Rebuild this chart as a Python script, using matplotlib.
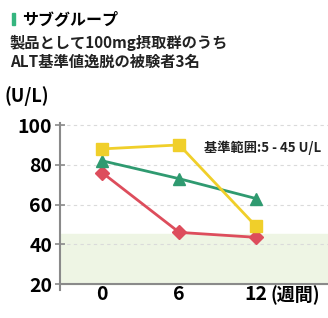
import matplotlib

matplotlib.use("Agg")
import matplotlib.pyplot as plt
from matplotlib.patches import Rectangle

plt.rcParams["font.family"] = ["Noto Sans CJK JP", "DejaVu Sans"]

weeks = [0, 6, 12]
week_labels = ["0", "6", "12"]
yellow_values = [88, 90, 49]
green_values = [82, 73, 63]
red_values = [76, 46, 43.5]
y_ticks = [20, 40, 60, 80, 100]
ref_low, ref_high = 5, 45

GRAY = "#8a8a8a"

fig = plt.figure(figsize=(3.28, 3.18), dpi=100)
ax = fig.add_axes([60 / 328, 0.088, 1 - 60 / 328, 0.525])

ax.set_xlim(-3.3, 17.6)
ax.set_ylim(17, 101)

# reference band (only the part above the axis floor is visible)
ax.axhspan(max(ref_low, 20), ref_high, color="#eef5e4", zorder=0)

for y in y_ticks[1:]:
    ax.axhline(y, color="#dadada", linestyle=(0, (3, 3)), linewidth=0.8, zorder=1)

ax.plot(weeks, red_values, color="#dd4d5c", linewidth=2, marker="D", markersize=7, zorder=3)
ax.plot(weeks, green_values, color="#2f9a70", linewidth=2, marker="^", markersize=8, zorder=3)
ax.plot(weeks, yellow_values, color="#f0cf2a", linewidth=2, marker="s", markersize=8, zorder=3)

for side in ["top", "right"]:
    ax.spines[side].set_visible(False)
ax.spines["bottom"].set_position(("data", 20))
for side in ["left", "bottom"]:
    ax.spines[side].set_color(GRAY)
    ax.spines[side].set_linewidth(1.5)

ax.set_yticks(y_ticks)
ax.set_yticklabels([str(v) for v in y_ticks], fontsize=14, fontweight="bold")
ax.tick_params(axis="y", direction="inout", length=7, width=1.2, color=GRAY, pad=2)
ax.set_xticks(weeks)
ax.set_xticklabels(week_labels, fontsize=14, fontweight="bold")
ax.tick_params(axis="x", length=0, pad=1)

ax.annotate("(週間)", xy=(weeks[-1], 20), xytext=(10, -1), textcoords="offset points",
            fontsize=13, fontweight="bold", ha="left", va="top")

ax.text(7.9, 88.5, "基準範囲:5 - 45 U/L", fontsize=9.5, fontweight="bold", ha="left",
        va="center", color="#222222")

fig.patches.append(Rectangle((12 / 328, 1 - 25 / 318), 3 / 328, 12 / 318,
                             transform=fig.transFigure, color="#35b57f"))
fig.text(22 / 328, 1 - 19 / 318, "サブグループ", fontsize=11.5, fontweight="bold",
         va="center", ha="left")
fig.text(10 / 328, 1 - 43 / 318, "製品として100mg摂取群のうち", fontsize=11,
         fontweight="bold", va="center", ha="left", color="#222222")
fig.text(10 / 328, 1 - 62 / 318, "ALT基準値逸脱の被験者3名", fontsize=11,
         fontweight="bold", va="center", ha="left", color="#222222")
fig.text(5 / 328, 1 - 96 / 318, "(U/L)", fontsize=13, fontweight="bold",
         va="center", ha="left")

fig.savefig("out.png", dpi=100)
